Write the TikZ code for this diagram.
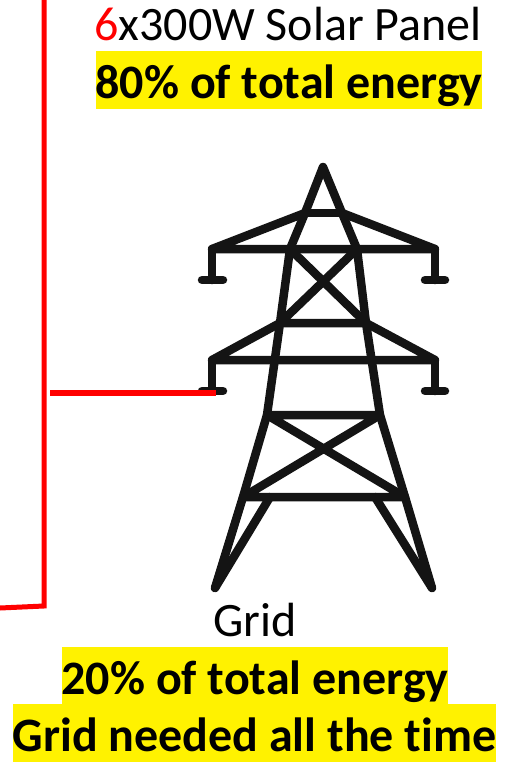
\documentclass[tikz,border=0pt]{standalone}
\usepackage{fontspec}
\setmainfont{Carlito}[Ligatures=NoCommon]
\usetikzlibrary{positioning}

\begin{document}
\begin{tikzpicture}[x=1pt,y=-1pt,
	tower/.style={line width=8.5pt,black!92,line cap=round,line join=round},
	wire/.style={line width=5pt,red,line join=miter},
	caption/.style={inner sep=0pt,anchor=base,font=\fontsize{48}{48}\selectfont},
	note/.style={caption,fill=yellow,font=\fontsize{48}{48}\selectfont\bfseries,text height=47pt,text depth=11pt}]

\useasboundingbox (0,0) rectangle (513,764);

% tower points
\coordinate(apex) at (323,167);
\coordinate(neckl) at (305,213);
\coordinate(neckr) at (342,213);
\coordinate(arml) at (212,249);
\coordinate(armr) at (435,249);
\coordinate(waistl) at (280,323);
\coordinate(waistr) at (366,323);
\coordinate(lowl) at (212,360);
\coordinate(lowr) at (435,360);
\coordinate(topl) at (290,249);
\coordinate(topr) at (357,249);
\coordinate(midl) at (267,415);
\coordinate(midr) at (380,415);
\coordinate(basel) at (243,497);
\coordinate(baser) at (405,497);
\coordinate(footl) at (215,588);
\coordinate(footr) at (432,588);

% legs and bars
\draw[tower](footl)--(basel)--(midl)--(waistl)--(topl)--(neckl)--(apex)--(neckr)--(topr)--(waistr)--(midr)--(baser)--(footr);
\draw[tower](neckl)--(neckr);
\draw[tower](neckl)--(arml)--(armr)--(neckr);
\draw[tower](waistl)--(lowl)--(lowr)--(waistr) (waistl)--(waistr);
\draw[tower](topl)--(waistr) (topr)--(waistl);
\draw[tower](midl)--(midr) (midl)--(baser) (midr)--(basel) (basel)--(baser);
\draw[tower](footl)--(270,497) (footr)--(375,497);

% insulators
\foreach \arm/\xa/\xb in {arml/202/223,armr/425/445,lowl/202/223,lowr/425/445}{
	\draw[tower](\arm)--++(0,31);
	\draw[tower](\xa,0|-\arm)++(0,31)--++(\xb-\xa,0);
}

% wires
\coordinate(wiretop) at (44,0);
\coordinate(wirebend) at (44,606);
\coordinate(wireend) at (0,608);
\coordinate(gridstart) at (50,393);
\coordinate(gridend) at (216,393);
\draw[wire](wiretop)--(wirebend)--(wireend);
\draw[wire,line width=5.5pt](gridstart)--(gridend);

% labels
\node[caption](solar) at (288,40){{\color{red}6}x300W Solar Panel};
\node[note](solarshare) at (289,98){80\% of total energy};
\node[caption](grid) at (255,636){Grid};
\node[note](gridshare) at (255,694){20\% of total energy};
\node[note](gridneed) at (254.5,751){Grid needed all the time};

\end{tikzpicture}
\end{document}
